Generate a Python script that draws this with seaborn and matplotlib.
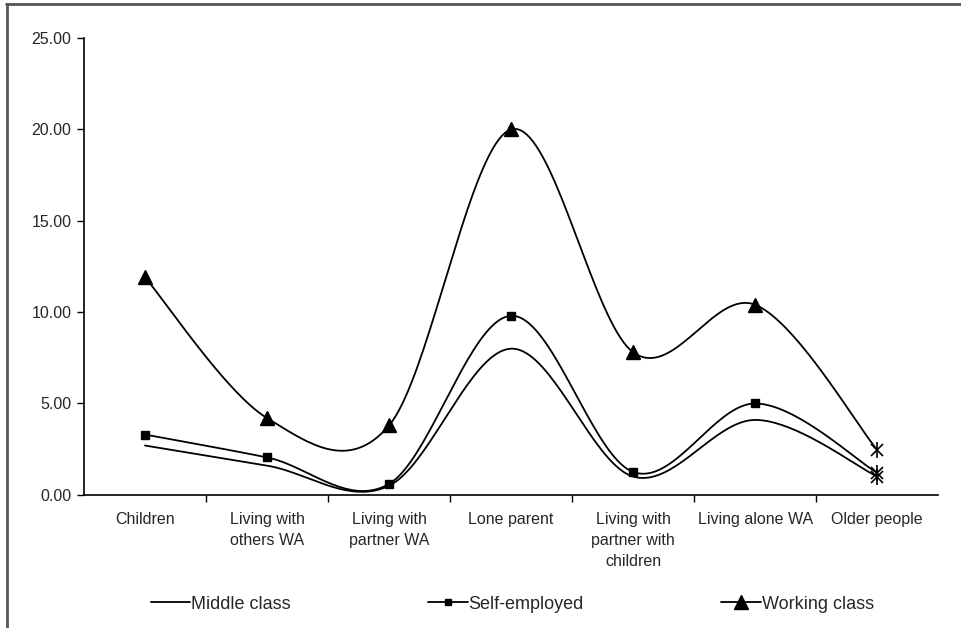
import numpy as np
import pandas as pd
import matplotlib
matplotlib.use("Agg")
import matplotlib.pyplot as plt
from matplotlib.lines import Line2D
import seaborn as sns

categories = ["Children", "Living with\nothers WA", "Living with\npartner WA", "Lone parent",
              "Living with\npartner with\nchildren", "Living alone WA", "Older people"]
middle_class = [2.7, 1.6, 0.5, 8.0, 1.0, 4.1, 1.0]
self_employed = [3.3, 2.05, 0.6, 9.8, 1.25, 5.0, 1.2]
working_class = [11.9, 4.2, 3.8, 20.0, 7.8, 10.4, 2.45]
y_ticks = [0, 5, 10, 15, 20, 25]


# Excel-style smoothed line (cubic Bezier through each point)
def smooth(xs, ys, n=40):
    p = np.column_stack([xs, ys]).astype(float)
    p = np.vstack([p[0], p, p[-1]])
    out = []
    for i in range(1, len(p) - 2):
        p0, p1, p2, p3 = p[i - 1], p[i], p[i + 1], p[i + 2]
        c1 = p1 + (p2 - p0) / 6
        c2 = p2 - (p3 - p1) / 6
        t = np.linspace(0, 1, n)[:, None]
        seg = (1 - t) ** 3 * p1 + 3 * (1 - t) ** 2 * t * c1 + 3 * (1 - t) * t ** 2 * c2 + t ** 3 * p2
        out.append(seg if i == 1 else seg[1:])
    return np.vstack(out)


sns.set_style("white")
plt.rcParams["font.family"] = ["Liberation Sans", "DejaVu Sans"]

fig = plt.figure(figsize=(9.61, 6.28), dpi=100)
ax = fig.add_axes([0.0874, 0.212, 0.889, 0.7275])

xpos = np.arange(len(categories)) + 0.5
series = {"Middle class": middle_class, "Self-employed": self_employed, "Working class": working_class}

rows = []
for name, vals in series.items():
    curve = smooth(xpos, vals)
    rows.append(pd.DataFrame({"x": curve[:, 0], "y": curve[:, 1], "series": name}))
df = pd.concat(rows)

sns.lineplot(data=df, x="x", y="y", hue="series", palette=["black"] * 3, sort=False,
             estimator=None, units="series", linewidth=1.3, legend=False, ax=ax)

ax.plot(xpos[:-1], self_employed[:-1], ls="none", marker="s", ms=5.5, color="black")
ax.plot(xpos[:-1], working_class[:-1], ls="none", marker="^", ms=10, color="black")

# last point markers (asterisk style)
last = [middle_class[-1], self_employed[-1], working_class[-1]]
for v in last:
    ax.plot(xpos[-1], v, marker="x", ms=9, mew=1.2, color="black")
    ax.plot(xpos[-1], v, marker="|", ms=11, mew=1.2, color="black")

ax.set_xlim(0, len(categories))
ax.set_ylim(0, 25)
ax.set_yticks(y_ticks)
ax.set_yticklabels([f"{v:.2f}" for v in y_ticks], fontsize=11.5)
ax.set_xticks(np.arange(1, len(categories)))
ax.set_xticklabels([])
ax.set_xticks(xpos, minor=True)
ax.set_xticklabels(categories, minor=True, fontsize=11.5, linespacing=1.5, va="top")
ax.tick_params(axis="x", which="minor", length=0, pad=12)
ax.tick_params(axis="x", which="major", length=5, width=1, direction="out", bottom=True, color="black")
ax.tick_params(axis="y", length=5, width=1, direction="out", left=True, color="black", pad=4)
ax.set_xlabel("")
ax.set_ylabel("")
for s in ["top", "right"]:
    ax.spines[s].set_visible(False)
for s in ["left", "bottom"]:
    ax.spines[s].set_color("black")
    ax.spines[s].set_linewidth(1.2)

handles = [Line2D([], [], color="black", lw=1.3),
           Line2D([], [], color="black", lw=1.3, marker="s", ms=5),
           Line2D([], [], color="black", lw=1.3, marker="^", ms=10)]
fig.legend(handles, list(series.keys()), loc="center", bbox_to_anchor=(0.533, 0.038), ncol=3,
           frameon=False, fontsize=13, handlelength=2.2, handletextpad=0.05, columnspacing=7.6)

# figure border (top and left visible)
fig.add_artist(Line2D([0.006, 1], [0.993, 0.993], transform=fig.transFigure, color="#555555", lw=2))
fig.add_artist(Line2D([0.007, 0.007], [0, 0.993], transform=fig.transFigure, color="#555555", lw=2))

fig.savefig("out.png", dpi=100)
